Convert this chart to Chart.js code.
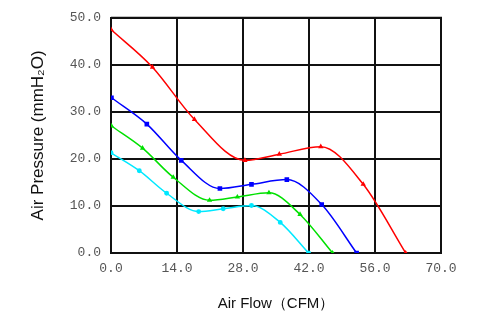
<!DOCTYPE html>
<html>
<head>
<meta charset="utf-8">
<script src="https://cdn.jsdelivr.net/npm/chart.js@4"></script>
<style>
  html, body { margin: 0; padding: 0; background: #fff; }
  #wrap { width: 483px; height: 335px; }
</style>
</head>
<body>
<div id="wrap"><canvas id="myChart" width="483" height="335"></canvas></div>
<script>
// curves: [CFM, mmH2O]
const red_pts = [[0, 47.5], [8.8, 39.5], [17.7, 28.4], [28.4, 19.7], [35.7, 21.0], [44.5, 22.6], [53.5, 14.6], [62.5, 0]];
const blue_pts = [[0.1, 33.0], [7.6, 27.4], [14.9, 19.7], [23.1, 13.7], [29.8, 14.6], [37.3, 15.6], [44.7, 10.3], [52.1, 0]];
const green_pts = [[0.1, 27.0], [6.7, 22.3], [13.2, 16.1], [20.9, 11.2], [26.8, 11.9], [33.5, 12.8], [40.1, 8.2], [47.0, 0]];
const cyan_pts = [[0, 21.3], [6.0, 17.5], [11.8, 12.7], [18.6, 8.8], [23.8, 9.4], [29.8, 10.1], [35.9, 6.5], [41.9, 0]];

const x_ticks = [0, 14, 28, 42, 56, 70];
const y_ticks = [0, 10, 20, 30, 40, 50];
const x_title = "Air Flow\uFF08CFM\uFF09";
const y_title = "Air Pressure (mmH\u2082O)";

function make_set(pts, color, style, r) {
  return {
    data: pts.map(p => ({ x: p[0], y: p[1] })),
    borderColor: color,
    backgroundColor: color,
    borderWidth: 1.5,
    pointStyle: style,
    pointRadius: r,
    pointHoverRadius: r,
    cubicInterpolationMode: "monotone",
    fill: false,
  };
}

const tickFont = { family: "Liberation Mono", size: 13 };

const ctx = document.getElementById("myChart");
const chart = new Chart(ctx, {
  type: "line",
  data: {
    datasets: [
      make_set(red_pts, "#ff0000", "triangle", 1.6),
      make_set(blue_pts, "#0000ff", "rect", 2.2),
      make_set(green_pts, "#00e000", "triangle", 1.6),
      make_set(cyan_pts, "#00e8ff", "circle", 1.7),
    ],
  },
  options: {
    responsive: false,
    animation: false,
    layout: { padding: { left: 0, right: 42, top: 10, bottom: 0 } },
    plugins: { legend: { display: false }, tooltip: { enabled: false } },
    scales: {
      x: {
        type: "linear",
        min: 0,
        max: 70,
        afterBuildTicks: (s) => { s.ticks = x_ticks.map(v => ({ value: v })); },
        afterFit: (s) => { s.height = 82; },
        ticks: {
          font: tickFont,
          color: "#555",
          padding: 8,
          maxRotation: 0,
          callback: (v) => Number(v).toFixed(1),
        },
        grid: { color: "#111", lineWidth: 2, drawTicks: false },
        border: { color: "#111", width: 2 },
        title: {
          display: true,
          text: x_title,
          color: "#111",
          font: { family: "Liberation Sans", size: 15 },
          padding: { top: 0, bottom: 22 },
        },
      },
      y: {
        type: "linear",
        min: 0,
        max: 50,
        afterBuildTicks: (s) => { s.ticks = y_ticks.map(v => ({ value: v })); },
        afterFit: (s) => { s.width = 111; },
        ticks: {
          font: tickFont,
          color: "#555",
          padding: 10,
          callback: (v) => Number(v).toFixed(1),
        },
        grid: { color: "#111", lineWidth: 2, drawTicks: false },
        border: { color: "#111", width: 2 },
        title: {
          display: true,
          text: y_title,
          color: "#111",
          font: { family: "Liberation Sans", size: 17 },
          padding: { top: 28, bottom: 0 },
        },
      },
    },
  },
  plugins: [{
    // top and right frame lines
    id: "frame",
    afterDraw(c) {
      const a = c.chartArea;
      const g = c.ctx;
      g.save();
      g.strokeStyle = "#111";
      g.lineWidth = 2;
      g.beginPath();
      g.moveTo(a.left, a.top);
      g.lineTo(a.right, a.top);
      g.lineTo(a.right, a.bottom);
      g.stroke();
      g.restore();
    },
  }],
});
</script>
</body>
</html>
